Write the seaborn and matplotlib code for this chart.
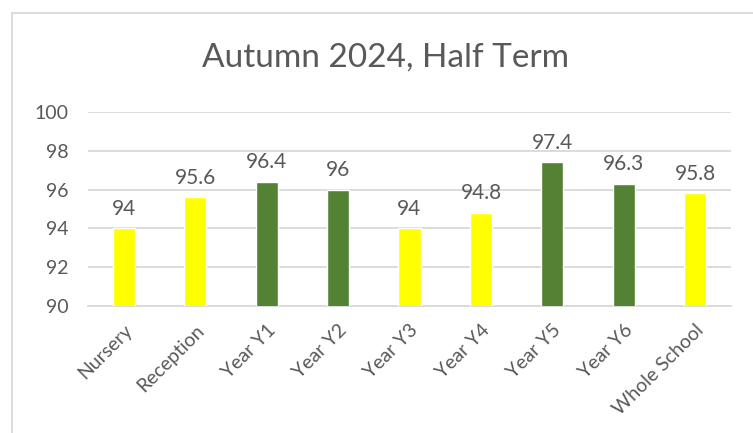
import matplotlib
matplotlib.use("Agg")
import matplotlib.pyplot as plt
import seaborn as sns
import pandas as pd
from matplotlib.patches import Rectangle

categories = ["Nursery", "Reception", "Year Y1", "Year Y2", "Year Y3",
              "Year Y4", "Year Y5", "Year Y6", "Whole School"]
values = [94, 95.6, 96.4, 96, 94, 94.8, 97.4, 96.3, 95.8]
value_labels = ["94", "95.6", "96.4", "96", "94", "94.8", "97.4", "96.3", "95.8"]
groups = ["yellow", "yellow", "green", "green", "yellow", "yellow", "green", "green", "yellow"]
title = "Autumn 2024, Half Term"
y_ticks = [90, 92, 94, 96, 98, 100]

YELLOW = "#FFFF00"
GREEN = "#548235"
TEXT = "#595959"
GRID = "#D9D9D9"

sns.set_theme(style="white")
plt.rcParams['font.family'] = ['Lato', 'DejaVu Sans']

df = pd.DataFrame({"cat": categories, "val": values})
palette = [YELLOW if g == "yellow" else GREEN for g in groups]

fig = plt.figure(figsize=(7.53, 4.33), dpi=100)
ax = fig.add_axes([88/753, 1 - 306/433, (731 - 88)/753, (306 - 112)/433])

sns.barplot(data=df, x="cat", y="val", hue="cat", palette=palette,
            legend=False, width=0.31, saturation=1, ax=ax, zorder=3)

ax.set_ylim(90, 100)
ax.set_yticks(y_ticks)
ax.set_xlim(-0.5, len(categories) - 0.5)
ax.yaxis.grid(True, color=GRID, linewidth=1.3, zorder=0)
ax.set_axisbelow(True)
for s in ["top", "right", "left"]:
    ax.spines[s].set_visible(False)
ax.spines["bottom"].set_color(GRID)
ax.spines["bottom"].set_linewidth(1.3)
ax.set_xlabel("")
ax.set_ylabel("")
ax.tick_params(axis="both", length=0, colors=TEXT, labelsize=14)
ax.tick_params(axis="y", pad=14)
ax.tick_params(axis="x", pad=11)
plt.setp(ax.get_xticklabels(), rotation=45, ha="right", rotation_mode="anchor")

for i, (v, lab) in enumerate(zip(values, value_labels)):
    ax.annotate(lab, (i, v), xytext=(0, 7), textcoords="offset points",
                ha="center", va="bottom", color=TEXT, fontsize=15)

fig.text(386/753, 1 - 58/433, title, ha="center", va="center",
         color=TEXT, fontsize=24)

fig.patches.append(Rectangle((12/753, -0.1), 1.2, 1 - 13/433 + 0.1,
                             transform=fig.transFigure, fill=False,
                             edgecolor=GRID, linewidth=1.3, zorder=0))

fig.savefig("out.png", dpi=100)
